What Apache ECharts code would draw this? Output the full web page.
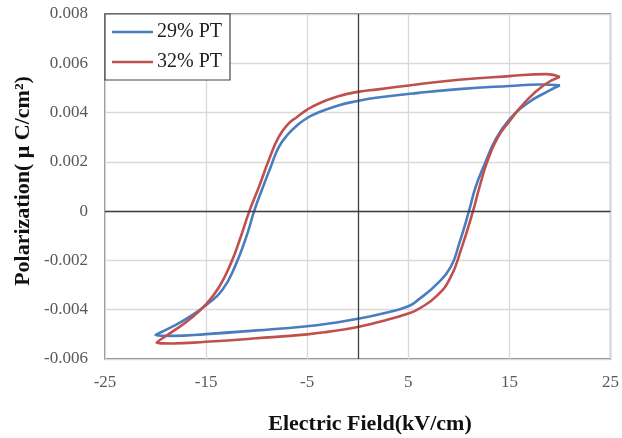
<!DOCTYPE html>
<html>
<head>
<meta charset="utf-8">
<script src="https://cdn.jsdelivr.net/npm/echarts@6/dist/echarts.min.js"></script>
<style>
html,body{margin:0;padding:0;background:#fff;}
#chart{width:622px;height:438px;}
</style>
</head>
<body>
<div id="chart"></div>
<script>
// Data: hysteresis loops, [E (kV/cm), P (μC/cm²)], traced from +20 down to -20 and back
var seriesNames = ['29% PT', '32% PT'];
var pt29Upper = [
  [20, 0.00511], [18, 0.00514], [15, 0.00508], [10, 0.00495], [6, 0.0048],
  [2, 0.00461], [0, 0.00447], [-2, 0.00428], [-4, 0.00398], [-5, 0.00378],
  [-6, 0.00348], [-6.83, 0.00315], [-7.8, 0.00261], [-8.6, 0.0018],
  [-9.45, 0.0009], [-10.25, 0], [-10.95, -0.00095], [-12.1, -0.0022],
  [-13.4, -0.0032], [-14.95, -0.0038], [-16.65, -0.00429], [-18.3, -0.00468],
  [-20, -0.00503]
];
var pt29Lower = [
  [-18.3, -0.00506], [-15, -0.00499], [-10, -0.00484], [-5, -0.00467],
  [-3, -0.00457], [0, -0.00437], [3, -0.0041], [5, -0.00386], [5.94, -0.00361],
  [7.9, -0.00293], [9.2, -0.00226], [10.04, -0.00131], [11.0, 0],
  [11.67, 0.00099], [12.65, 0.002], [13.6, 0.00288], [14.95, 0.00369],
  [16.75, 0.00437], [18.7, 0.00484], [20, 0.00511]
];
var pt32Upper = [
  [20, 0.00545], [18.7, 0.00556], [15, 0.00548], [10, 0.00533], [6, 0.00515],
  [2, 0.00494], [0, 0.00484], [-2, 0.00465], [-4, 0.00434], [-5, 0.00412],
  [-6, 0.00382], [-6.83, 0.00356], [-7.8, 0.00302], [-8.8, 0.00207],
  [-9.77, 0.00099], [-10.72, 0], [-11.57, -0.00104], [-12.55, -0.00212],
  [-13.7, -0.00307], [-14.95, -0.00375], [-16.65, -0.0044], [-18.3, -0.00488],
  [-19.9, -0.00534]
];
var pt32Lower = [
  [-18.3, -0.00537], [-15, -0.0053], [-10, -0.00516], [-5, -0.005],
  [-3, -0.0049], [0, -0.0047], [3, -0.0044], [5, -0.00415], [5.94, -0.00399],
  [7.9, -0.00341], [9.2, -0.00267], [10.2, -0.00158], [11.4, 0],
  [12.05, 0.00099], [12.8, 0.002], [13.8, 0.00295], [14.95, 0.00362],
  [16.6, 0.00444], [18.4, 0.00511], [20, 0.00545]
];
var xTicks = [-25, -15, -5, 5, 15, 25];
var yTicks = [-0.006, -0.004, -0.002, 0, 0.002, 0.004, 0.006, 0.008];
var xTitle = 'Electric Field(kV/cm)';
var yTitle = 'Polarization( \u03bc C/cm\u00b2)';

var serif = '"Liberation Serif", "Times New Roman", serif';
var chart = echarts.init(document.getElementById('chart'));
chart.setOption({
  animation: false,
  grid: {left: 105, right: 8, top: 14, bottom: 79, show: true, borderColor: '#5a5a5a', borderWidth: 1.3, backgroundColor: 'transparent'},
  legend: {
    left: 105, top: 14, orient: 'vertical', itemGap: 10,
    padding: [8, 8, 8, 7],
    backgroundColor: '#fff', borderColor: '#444', borderWidth: 1.2, borderRadius: 0,
    itemWidth: 41, itemHeight: 20,
    icon: 'path://M0,0 L41,0 L41,2.5 L0,2.5 Z',
    textStyle: {fontFamily: serif, fontSize: 20, color: '#222', padding: [0, 0, 0, -1]},
    data: seriesNames
  },
  xAxis: {
    type: 'value', min: xTicks[0], max: xTicks[xTicks.length - 1], interval: 10,
    axisLine: {show: false}, axisTick: {show: false},
    splitLine: {lineStyle: {color: '#d9d9d9', width: 1.3}},
    axisLabel: {fontFamily: serif, fontSize: 17, color: '#595959', margin: 15}
  },
  yAxis: {
    type: 'value', min: yTicks[0], max: yTicks[yTicks.length - 1], interval: 0.002,
    axisLine: {show: false}, axisTick: {show: false},
    splitLine: {lineStyle: {color: '#d9d9d9', width: 1.3}},
    axisLabel: {fontFamily: serif, fontSize: 17, color: '#595959', margin: 17,
      formatter: function (v) { return Math.abs(v) < 1e-12 ? '0' : v.toFixed(3); }}
  },
  graphic: [
    {type: 'text', x: 370, y: 424, style: {text: xTitle, font: 'bold 22px ' + serif, fill: '#111', textAlign: 'center', textVerticalAlign: 'middle'}},
    {type: 'text', rotation: Math.PI / 2, x: 23, y: 181, style: {text: yTitle, font: 'bold 22px ' + serif, fill: '#111', textAlign: 'center', textVerticalAlign: 'middle'}}
  ],
  series: [
    {
      name: seriesNames[0], type: 'line', showSymbol: false, smooth: 0.5,
      lineStyle: {color: '#4a7dbf', width: 2.6}, itemStyle: {color: '#4a7dbf'},
      data: pt29Upper.concat(pt29Lower), z: 3,
      markLine: {
        silent: true, symbol: 'none', label: {show: false},
        lineStyle: {color: '#3f3f3f', width: 1.3, type: 'solid'},
        data: [{xAxis: 0}, {yAxis: 0}]
      }
    },
    {
      name: seriesNames[1], type: 'line', showSymbol: false, smooth: 0.5,
      lineStyle: {color: '#c0504d', width: 2.6}, itemStyle: {color: '#c0504d'},
      data: pt32Upper.concat(pt32Lower), z: 4
    }
  ]
});
</script>
</body>
</html>
